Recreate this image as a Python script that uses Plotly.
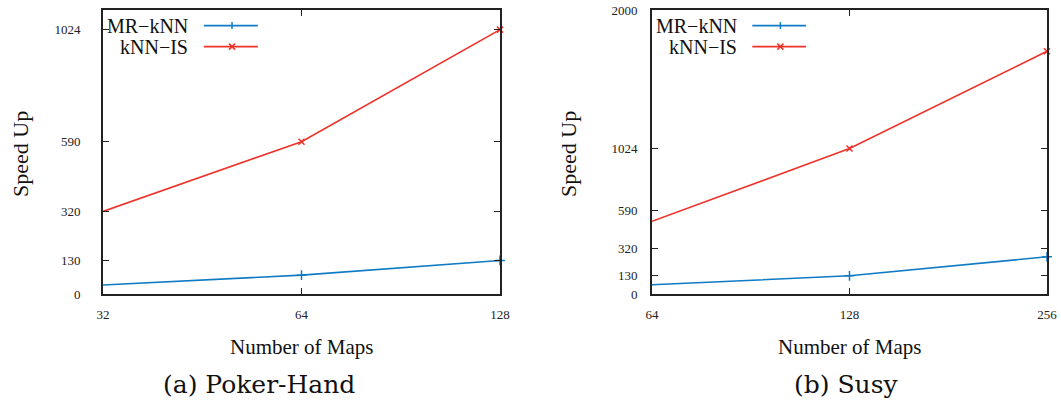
import math
import plotly.graph_objects as go

# ---- data ----
maps_a = [32, 64, 128]
mr_knn_a = [35, 73, 130]
knn_is_a = [320, 590, 1024]
yticks_a = [0, 130, 320, 590, 1024]

maps_b = [64, 128, 256]
mr_knn_b = [65, 128, 262]
knn_is_b = [512, 1024, 1709]
yticks_b = [0, 130, 320, 590, 1024, 2000]

series_names = ["MR\u2212kNN", "kNN\u2212IS"]
captions = ["(a) Poker-Hand", "(b) Susy"]
xtitle = "Number of Maps"
ytitle = "Speed Up"

W, H = 1061, 405

BLUE = "#0f7bc4"
RED = "#ee3229"
FRAME = "#222222"
FONT = "Liberation Serif"


def px_x(p):
    return p / W


def px_y(p):
    return 1 - p / H


dom_y = [px_y(294), px_y(10)]
dom_xa = [px_x(103), px_x(500)]
dom_xb = [px_x(652), px_x(1047)]

fig = go.Figure()
for (xs, mr, ki, xa, ya) in [
    (maps_a, mr_knn_a, knn_is_a, "x", "y"),
    (maps_b, mr_knn_b, knn_is_b, "x2", "y2"),
]:
    fig.add_trace(go.Scatter(x=xs, y=mr, mode="lines+markers", xaxis=xa, yaxis=ya,
                             line=dict(color=BLUE, width=1.6),
                             marker=dict(symbol="cross-thin", size=7, line=dict(color=BLUE, width=1.5)),
                             showlegend=False, cliponaxis=False))
    fig.add_trace(go.Scatter(x=xs, y=ki, mode="lines+markers", xaxis=xa, yaxis=ya,
                             line=dict(color=RED, width=1.6),
                             marker=dict(symbol="x-thin", size=6, line=dict(color=RED, width=1.5)),
                             showlegend=False, cliponaxis=False))


def xaxis(dom, xs, anchor):
    return dict(domain=dom, type="log", anchor=anchor,
                range=[math.log10(xs[0]), math.log10(xs[-1])],
                tickvals=xs, ticktext=[str(v) for v in xs],
                ticks="inside", ticklen=6, tickcolor=FRAME, tickwidth=1,
                showline=True, linecolor=FRAME, linewidth=1.6, mirror="allticks",
                showgrid=False, zeroline=False, automargin=False,
                ticklabelstandoff=8, ticklabeloverflow="allow",
                tickfont=dict(family=FONT, size=13, color="#222"))


def yaxis(dom, rng, ticks, anchor, standoff):
    return dict(domain=dom, range=rng, anchor=anchor,
                tickvals=ticks, ticktext=[str(v) for v in ticks],
                ticks="inside", ticklen=6, tickcolor=FRAME, tickwidth=1,
                showline=True, linecolor=FRAME, linewidth=1.6, mirror="allticks",
                showgrid=False, zeroline=False, automargin=False,
                ticklabelstandoff=standoff, ticklabeloverflow="allow",
                tickfont=dict(family=FONT, size=13, color="#222"))


fig.update_layout(
    width=W, height=H,
    margin=dict(l=0, r=0, t=0, b=0),
    paper_bgcolor="white", plot_bgcolor="white",
    showlegend=False,
    xaxis=xaxis(dom_xa, maps_a, "y"),
    yaxis=yaxis(dom_y, [0, 1100], yticks_a, "x", 18),
    xaxis2=xaxis(dom_xb, maps_b, "y2"),
    yaxis2=yaxis(dom_y, [0, 2000], yticks_b, "x2", 10),
)

annots = []
shapes = []
for i, (xref, yref, dom) in enumerate([("x domain", "y domain", dom_xa), ("x2 domain", "y2 domain", dom_xb)]):
    # legend (gnuplot style: text right-aligned, sample to its right)
    for j, (name, col, sym) in enumerate(zip(series_names, [BLUE, RED], ["plus", "x"])):
        yy = [0.945, 0.871][j]
        annots.append(dict(xref=xref, yref=yref, x=0.219, y=yy, text=name, showarrow=False,
                           xanchor="right", yanchor="middle",
                           font=dict(family=FONT, size=20, color="#111")))
        shapes.append(dict(type="line", xref=xref, yref=yref, x0=0.254, x1=0.390, y0=yy, y1=yy,
                           line=dict(color=col, width=1.6)))
        if sym == "plus":
            shapes.append(dict(type="line", xref=xref, yref=yref, xsizemode="pixel", ysizemode="pixel",
                               xanchor=0.325, yanchor=yy, x0=0, x1=0, y0=-3.5, y1=3.5,
                               line=dict(color=col, width=1.5)))
        else:
            for s in (1, -1):
                shapes.append(dict(type="line", xref=xref, yref=yref, xsizemode="pixel", ysizemode="pixel",
                                   xanchor=0.325, yanchor=yy, x0=-3, x1=3, y0=-3 * s, y1=3 * s,
                                   line=dict(color=col, width=1.5)))
    # axis titles
    cx = (dom[0] + dom[1]) / 2
    annots.append(dict(xref="paper", yref="paper", x=cx, y=px_y(347), text=xtitle, showarrow=False,
                       xanchor="center", yanchor="middle", font=dict(family=FONT, size=21, color="#111")))
    annots.append(dict(xref="paper", yref="paper", x=px_x([21, 569][i]), y=px_y(154), text=ytitle,
                       showarrow=False, textangle=-90, xanchor="center", yanchor="middle",
                       font=dict(family=FONT, size=22, color="#111")))
    annots.append(dict(xref="paper", yref="paper", x=px_x([259, 846][i]), y=px_y(384), text=captions[i],
                       showarrow=False, xanchor="center", yanchor="middle",
                       font=dict(family="DejaVu Serif", size=25, color="#111")))

fig.update_layout(annotations=annots, shapes=shapes)
fig.write_html("out.html", config={"displayModeBar": False},
               post_script="document.body.style.margin='0';document.body.style.overflow='hidden';")
